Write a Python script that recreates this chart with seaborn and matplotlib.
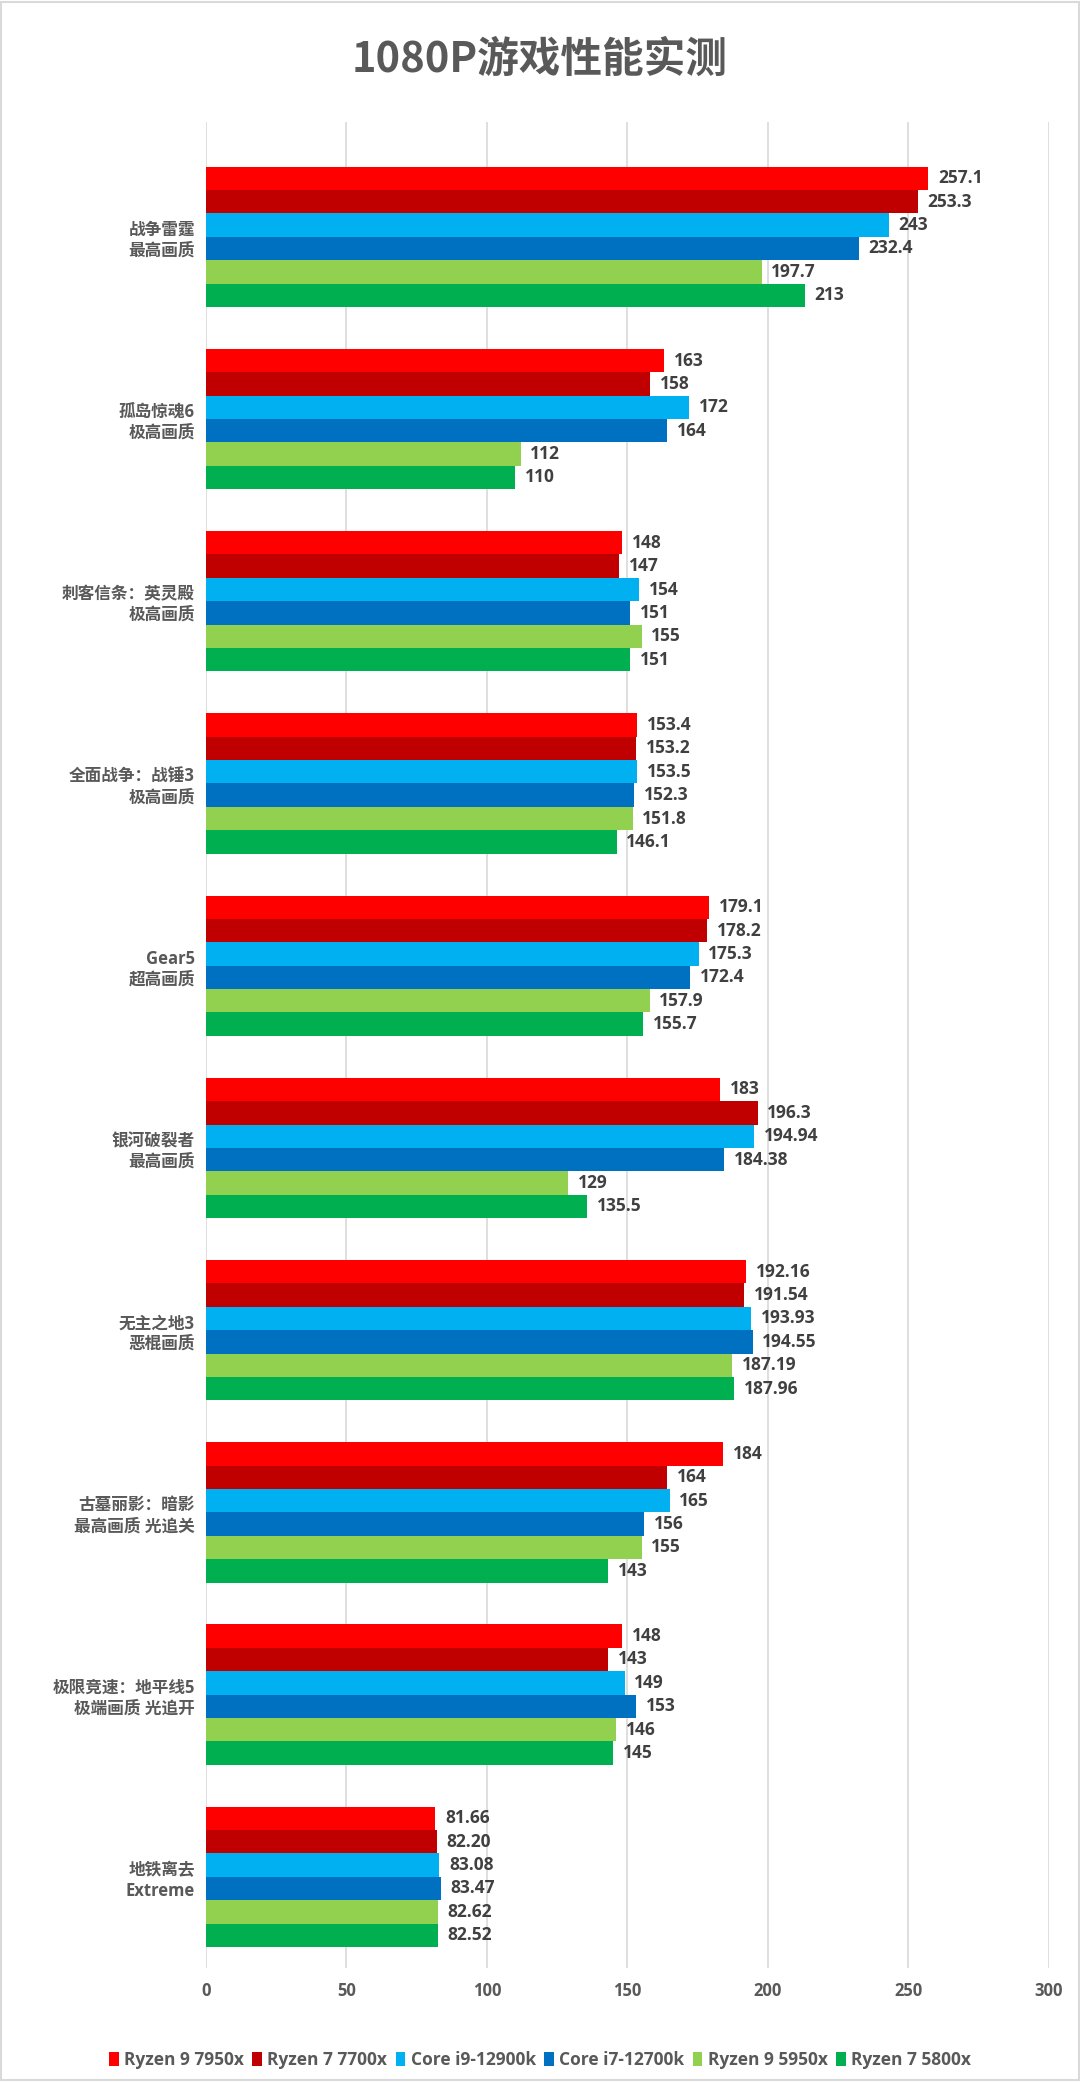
import seaborn as sns
import pandas as pd
import matplotlib.pyplot as plt
from matplotlib.patches import Rectangle

games = ['战争雷霆\n最高画质', '孤岛惊魂6\n极高画质', '刺客信条：英灵殿\n极高画质',
         '全面战争：战锤3\n极高画质', 'Gear5\n超高画质', '银河破裂者\n最高画质',
         '无主之地3\n恶棍画质', '古墓丽影：暗影\n最高画质 光追关',
         '极限竞速：地平线5\n极端画质 光追开', '地铁离去\nExtreme']
cpus = ['Ryzen 9 7950x', 'Ryzen 7 7700x', 'Core i9-12900k', 'Core i7-12700k',
        'Ryzen 9 5950x', 'Ryzen 7 5800x']
colors = ['#FF0000', '#C00000', '#00B0F0', '#0070C0', '#92D050', '#00B050']

# values per game, in cpu order (kept as text to keep the printed labels)
war_thunder = ['257.1', '253.3', '243', '232.4', '197.7', '213']
far_cry6 = ['163', '158', '172', '164', '112', '110']
valhalla = ['148', '147', '154', '151', '155', '151']
warhammer3 = ['153.4', '153.2', '153.5', '152.3', '151.8', '146.1']
gears5 = ['179.1', '178.2', '175.3', '172.4', '157.9', '155.7']
galaxy = ['183', '196.3', '194.94', '184.38', '129', '135.5']
borderlands3 = ['192.16', '191.54', '193.93', '194.55', '187.19', '187.96']
tomb_raider = ['184', '164', '165', '156', '155', '143']
forza5 = ['148', '143', '149', '153', '146', '145']
metro = ['81.66', '82.20', '83.08', '83.47', '82.62', '82.52']

all_vals = [war_thunder, far_cry6, valhalla, warhammer3, gears5, galaxy,
            borderlands3, tomb_raider, forza5, metro]

rows = []
for g, vals in zip(games, all_vals):
    for c, v in zip(cpus, vals):
        rows.append({'game': g, 'cpu': c, 'fps': float(v), 'label': v})
df = pd.DataFrame(rows)

sns.set_style('white')
plt.rcParams['font.family'] = ['Open Sans', 'Noto Sans CJK SC', 'DejaVu Sans']

fig = plt.figure(figsize=(10.8, 20.82), dpi=100)
ax = fig.add_axes([0.1907, 0.0548, 0.7806, 0.8866])

sns.barplot(data=df, y='game', x='fps', hue='cpu', order=games, hue_order=cpus,
            palette=colors, saturation=1, width=0.77, orient='h', errorbar=None,
            linewidth=0, ax=ax, legend=True)

for cont, c in zip(ax.containers, cpus):
    labs = df[df.cpu == c].set_index('game').loc[games, 'label'].tolist()
    ax.bar_label(cont, labels=labs, padding=7, fontsize=12.5, fontweight='bold',
                 color='#404040')

ax.set_xlim(0, 300)
ax.set_xticks(range(0, 301, 50))
ax.set_ylim(9.5, -0.63)
ax.xaxis.grid(True, color='#d9d9d9', linewidth=1.2)
ax.set_axisbelow(True)
for s in ax.spines.values():
    s.set_visible(False)
ax.set_xlabel('')
ax.set_ylabel('')
ax.tick_params(axis='x', length=0, pad=10, labelsize=12, labelcolor='#595959')
ax.tick_params(axis='y', length=0, pad=8, labelsize=12, labelcolor='#595959')
for t in ax.get_xticklabels() + ax.get_yticklabels():
    t.set_fontweight('bold')

handles, labels = ax.get_legend_handles_labels()
ax.get_legend().remove()
fig.legend(handles, labels, loc='center', bbox_to_anchor=(0.5, 0.0105), ncol=6,
           frameon=False, handlelength=0.55, handleheight=0.9, handletextpad=0.3,
           columnspacing=0.5, prop={'weight': 'bold', 'size': 12.5},
           labelcolor='#595959')

fig.text(0.5, 0.9715, '1080P游戏性能实测', ha='center', va='center', fontsize=30,
         fontweight='bold', color='#595959', family=['Noto Sans CJK SC', 'DejaVu Sans'])

fig.patches.append(Rectangle((0.001, 0.001), 0.998, 0.998, transform=fig.transFigure,
                             fill=False, edgecolor='#d9d9d9', linewidth=1.5))

fig.savefig('out.png', dpi=100)
